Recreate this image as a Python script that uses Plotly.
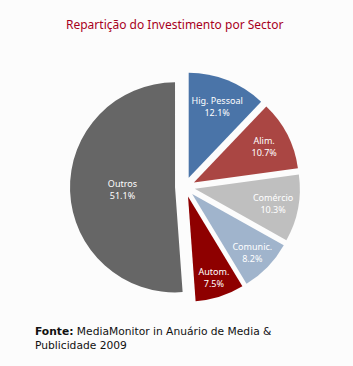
import plotly.graph_objects as go

sectors = ["Hig. Pessoal", "Alim.", "Comércio", "Comunic.", "Autom.", "Outros"]
shares = [12.1, 10.7, 10.3, 8.2, 7.5, 51.1]
colors = ["#4A74A8", "#AA4643", "#BFBFBF", "#A0B4CC", "#8E0000", "#666666"]
pulls = [0.095, 0.095, 0.095, 0.095, 0.095, 0.095]

labels_txt = [f"{s}<br>{v:.1f}%" for s, v in zip(sectors, shares)]

fig = go.Figure(go.Pie(
    labels=sectors,
    values=shares,
    text=labels_txt,
    textinfo="text",
    textposition="inside",
    insidetextorientation="horizontal",
    sort=False,
    direction="clockwise",
    rotation=0,
    pull=pulls,
    marker=dict(colors=colors, line=dict(width=0)),
    textfont=dict(family="Noto Sans", size=10, color="white"),
    domain=dict(x=[70/353, 300/353], y=[64/366, 294/366]),
    showlegend=False,
    hoverinfo="skip",
))

fig.update_layout(
    width=353, height=366,
    margin=dict(l=0, r=0, t=0, b=0),
    paper_bgcolor="#FCFCFC",
    plot_bgcolor="#FCFCFC",
    uniformtext=dict(minsize=9, mode="show"),
    annotations=[
        dict(text="Repartição do Investimento por Sector", x=174/353, y=1 - 25/366,
             xref="paper", yref="paper", showarrow=False, xanchor="center", yanchor="middle",
             font=dict(family="Noto Sans", size=12, color="#A8001C")),
        dict(text="<b>Fonte:</b> MediaMonitor in Anuário de Media &<br>Publicidade 2009",
             x=33/353, y=1 - 323/366, xref="paper", yref="paper", showarrow=False,
             xanchor="left", yanchor="top", align="left",
             font=dict(family="DejaVu Sans", size=10.7, color="#111111")),
    ],
)

fig.write_html("out.html")
